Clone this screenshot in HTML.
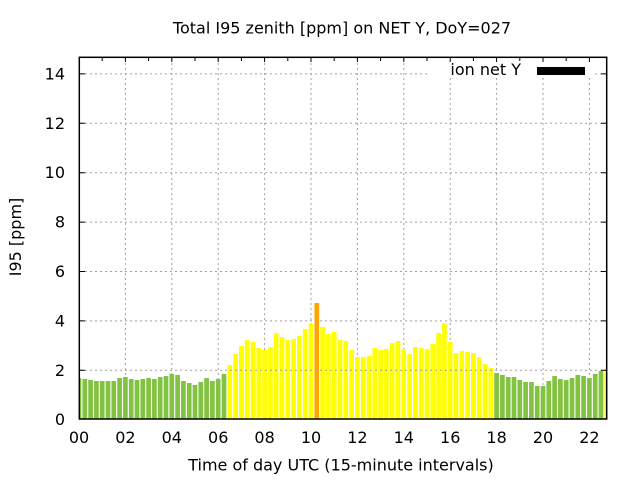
<!DOCTYPE html>
<html>
<head>
<meta charset="utf-8">
<style>
html,body{margin:0;padding:0;background:#fff;}
svg{display:block;}
text{font-family:"DejaVu Sans","Liberation Sans",sans-serif;font-size:16px;fill:#000;}
</style>
</head>
<body>
<svg width="640" height="480" viewBox="0 0 640 480" xmlns="http://www.w3.org/2000/svg">
<rect x="0" y="0" width="640" height="480" fill="#fff"/>
<defs>
<clipPath id="pa"><rect x="79.3" y="57.3" width="527.4" height="362"/></clipPath>
</defs>
<path stroke="#a0a0a0" stroke-width="1" stroke-dasharray="2,3" fill="none" d="M125.4 58V419M171.8 58V419M218.2 58V419M264.6 58V419M311 58V419M357.4 58V419M403.8 58V419M450.2 58V419M496.6 58V419M543 58V419M589.4 58V419M80 320.9H606M80 271.5H606M80 222.1H606M80 172.7H606M80 123.3H606M80 73.9H606"/>
<g clip-path="url(#pa)">
<path fill="#82c341" d="M76.65 378h4.7V419h-4.7zM82.45 379h4.7V419h-4.7zM88.25 380h4.7V419h-4.7zM94.05 381h4.7V419h-4.7zM99.85 381h4.7V419h-4.7zM105.65 381h4.7V419h-4.7zM111.45 381h4.7V419h-4.7zM117.25 378h4.7V419h-4.7zM123.05 377h4.7V419h-4.7zM128.85 379h4.7V419h-4.7zM134.65 380h4.7V419h-4.7zM140.45 379h4.7V419h-4.7zM146.25 378h4.7V419h-4.7zM152.05 379h4.7V419h-4.7zM157.85 377h4.7V419h-4.7zM163.65 376h4.7V419h-4.7zM169.45 374h4.7V419h-4.7zM175.25 375h4.7V419h-4.7zM181.05 381h4.7V419h-4.7zM186.85 383h4.7V419h-4.7zM192.65 385h4.7V419h-4.7zM198.45 382h4.7V419h-4.7zM204.25 378h4.7V419h-4.7zM210.05 381h4.7V419h-4.7zM215.85 379h4.7V419h-4.7zM221.65 374h4.7V419h-4.7zM494.25 373h4.7V419h-4.7zM500.05 375h4.7V419h-4.7zM505.85 377h4.7V419h-4.7zM511.65 377h4.7V419h-4.7zM517.45 380h4.7V419h-4.7zM523.25 382h4.7V419h-4.7zM529.05 382h4.7V419h-4.7zM534.85 386h4.7V419h-4.7zM540.65 386h4.7V419h-4.7zM546.45 381h4.7V419h-4.7zM552.25 376h4.7V419h-4.7zM558.05 379h4.7V419h-4.7zM563.85 380h4.7V419h-4.7zM569.65 378h4.7V419h-4.7zM575.45 375h4.7V419h-4.7zM581.25 376h4.7V419h-4.7zM587.05 378h4.7V419h-4.7zM592.85 374h4.7V419h-4.7zM598.65 371h4.7V419h-4.7z"/>
<path fill="#ffff00" d="M227.45 365h4.7V419h-4.7zM233.25 354h4.7V419h-4.7zM239.05 346h4.7V419h-4.7zM244.85 340h4.7V419h-4.7zM250.65 342h4.7V419h-4.7zM256.45 348h4.7V419h-4.7zM262.25 350h4.7V419h-4.7zM268.05 347h4.7V419h-4.7zM273.85 333h4.7V419h-4.7zM279.65 337h4.7V419h-4.7zM285.45 340h4.7V419h-4.7zM291.25 339h4.7V419h-4.7zM297.05 336h4.7V419h-4.7zM302.85 329h4.7V419h-4.7zM308.65 324h4.7V419h-4.7zM320.25 327h4.7V419h-4.7zM326.05 334h4.7V419h-4.7zM331.85 332h4.7V419h-4.7zM337.65 340h4.7V419h-4.7zM343.45 341h4.7V419h-4.7zM349.25 350h4.7V419h-4.7zM355.05 357h4.7V419h-4.7zM360.85 357h4.7V419h-4.7zM366.65 356h4.7V419h-4.7zM372.45 348h4.7V419h-4.7zM378.25 350h4.7V419h-4.7zM384.05 349h4.7V419h-4.7zM389.85 343h4.7V419h-4.7zM395.65 341h4.7V419h-4.7zM401.45 349h4.7V419h-4.7zM407.25 354h4.7V419h-4.7zM413.05 347h4.7V419h-4.7zM418.85 348h4.7V419h-4.7zM424.65 349h4.7V419h-4.7zM430.45 344h4.7V419h-4.7zM436.25 333h4.7V419h-4.7zM442.05 323h4.7V419h-4.7zM447.85 342h4.7V419h-4.7zM453.65 353h4.7V419h-4.7zM459.45 351h4.7V419h-4.7zM465.25 352h4.7V419h-4.7zM471.05 353h4.7V419h-4.7zM476.85 357h4.7V419h-4.7zM482.65 364h4.7V419h-4.7zM488.45 368h4.7V419h-4.7zM604.45 369h4.7V419h-4.7z"/>
<path fill="#ffa500" d="M314.45 303h4.7V419h-4.7z"/>
</g>
<path stroke="#a0a0a0" stroke-width="1" stroke-dasharray="2,3" fill="none" d="M80 370.3H606"/>
<rect x="429" y="58" width="164" height="20" fill="#fff"/>
<text x="521" y="75" text-anchor="end">ion net Y</text>
<rect x="537" y="67" width="48" height="8" fill="#000"/>
<rect x="79.3" y="57.3" width="527.4" height="361.7" fill="none" stroke="#000" stroke-width="1.5"/>
<path stroke="#000" stroke-width="1" fill="none" d="M79.3 370.3h5.7M79.3 320.9h5.7M79.3 271.5h5.7M79.3 222.1h5.7M79.3 172.7h5.7M79.3 123.3h5.7M79.3 73.9h5.7M606.7 370.3h-5.7M606.7 320.9h-5.7M606.7 271.5h-5.7M606.7 222.1h-5.7M606.7 172.7h-5.7M606.7 123.3h-5.7M606.7 73.9h-5.7M102.2 57.3v3.7M125.4 57.3v4.7M148.6 57.3v3.7M171.8 57.3v4.7M195 57.3v3.7M218.2 57.3v4.7M241.4 57.3v3.7M264.6 57.3v4.7M287.8 57.3v3.7M311 57.3v4.7M334.2 57.3v3.7M357.4 57.3v4.7M380.6 57.3v3.7M403.8 57.3v4.7M427 57.3v3.7M450.2 57.3v4.7M473.4 57.3v3.7M496.6 57.3v4.7M519.8 57.3v3.7M543 57.3v4.7M566.2 57.3v3.7M589.4 57.3v4.7"/>
<g text-anchor="end">
<text x="65" y="425">0</text>
<text x="65" y="375.8">2</text>
<text x="65" y="326.4">4</text>
<text x="65" y="277">6</text>
<text x="65" y="227.6">8</text>
<text x="65" y="178.2">10</text>
<text x="65" y="128.8">12</text>
<text x="65" y="79.4">14</text>
</g>
<g text-anchor="middle">
<text x="79" y="443">00</text>
<text x="125.4" y="443">02</text>
<text x="171.8" y="443">04</text>
<text x="218.2" y="443">06</text>
<text x="264.6" y="443">08</text>
<text x="311" y="443">10</text>
<text x="357.4" y="443">12</text>
<text x="403.8" y="443">14</text>
<text x="450.2" y="443">16</text>
<text x="496.6" y="443">18</text>
<text x="543" y="443">20</text>
<text x="589.4" y="443">22</text>
</g>
<text x="342" y="33.5" text-anchor="middle">Total I95 zenith [ppm] on NET Y, DoY=027</text>
<text x="341" y="470.5" text-anchor="middle">Time of day UTC (15-minute intervals)</text>
<text transform="translate(21,237) rotate(-90)" text-anchor="middle">I95 [ppm]</text>
</svg>
</body>
</html>
